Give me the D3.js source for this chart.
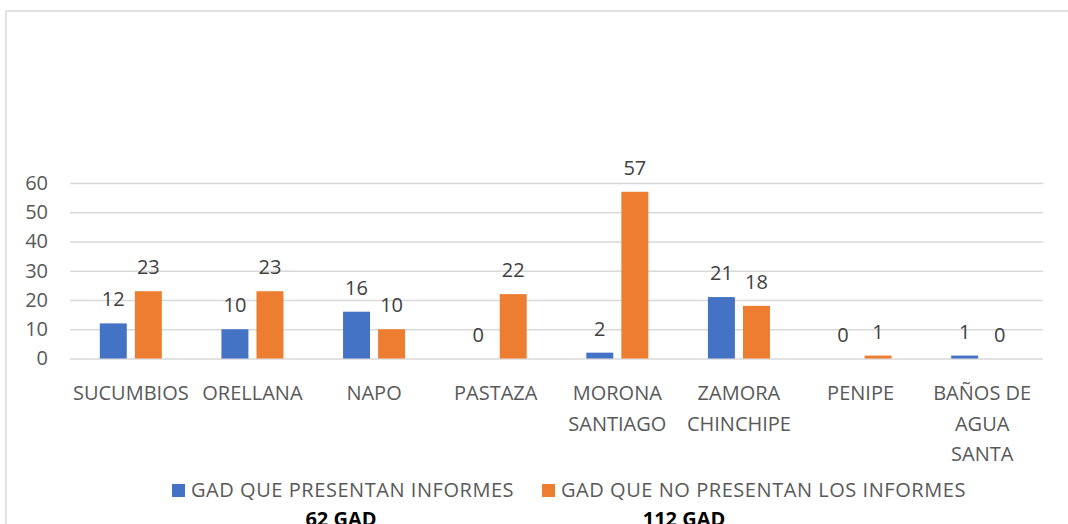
<!DOCTYPE html>
<html>
<head>
<meta charset="utf-8">
<script src="https://cdn.jsdelivr.net/npm/d3@7"></script>
<style>
  html, body { margin: 0; padding: 0; background: #fff; }
  svg { display: block; font-family: 'Open Sans', sans-serif; }
</style>
</head>
<body>
<div id="chart"></div>
<script>
// categories (multi-line labels split on '|')
const categories = ['SUCUMBIOS', 'ORELLANA', 'NAPO', 'PASTAZA', 'MORONA|SANTIAGO', 'ZAMORA|CHINCHIPE', 'PENIPE', 'BAÑOS DE|AGUA|SANTA'];
const seriesNames = ['GAD QUE PRESENTAN INFORMES', 'GAD QUE NO PRESENTAN LOS INFORMES'];
const presentan = [12, 10, 16, 0, 2, 21, 0, 1];
const noPresentan = [23, 23, 10, 22, 57, 18, 1, 0];
const yTicks = [0, 10, 20, 30, 40, 50, 60];
const totals = ['62 GAD', '112 GAD'];

const width = 1068, height = 524;
const colors = ['#4472C4', '#ED7D31'];
const margin = { top: 183, right: 25, bottom: 165.5, left: 70 };

const svg = d3.select('#chart').append('svg')
  .attr('width', width)
  .attr('height', height);

// chart frame (cut off at right / bottom)
svg.append('rect')
  .attr('x', 6).attr('y', 11)
  .attr('width', 1100).attr('height', 600)
  .attr('fill', 'none')
  .attr('stroke', '#d9d9d9')
  .attr('stroke-width', 1.5);

const x0 = d3.scaleBand()
  .domain(categories)
  .range([margin.left, width - margin.right])
  .paddingInner(0.49)
  .paddingOuter(0.245);

const x1 = d3.scaleBand()
  .domain([0, 1])
  .range([0, x0.bandwidth()])
  .paddingInner(0.23)
  .paddingOuter(0);

const y = d3.scaleLinear()
  .domain([0, 60])
  .range([height - margin.bottom, margin.top]);

// gridlines + tick labels
const yAxis = svg.append('g')
  .attr('transform', `translate(${margin.left},0)`)
  .call(d3.axisLeft(y)
    .tickValues(yTicks)
    .tickSize(-(width - margin.left - margin.right))
    .tickPadding(22));
yAxis.select('.domain').remove();
yAxis.selectAll('.tick line')
  .attr('stroke', '#d9d9d9')
  .attr('stroke-width', 1.6);
yAxis.selectAll('.tick text')
  .attr('fill', '#595959')
  .attr('font-size', '20px')
  .attr('font-family', "'Open Sans', sans-serif");

// bars
const data = categories.map((c, i) => ({ cat: c, vals: [presentan[i], noPresentan[i]] }));

const groups = svg.selectAll('.group')
  .data(data)
  .enter().append('g')
  .attr('class', 'group')
  .attr('transform', d => `translate(${x0(d.cat)},0)`);

groups.selectAll('rect')
  .data(d => d.vals.map((v, k) => ({ k, v })))
  .enter().append('rect')
  .attr('x', d => x1(d.k))
  .attr('y', d => y(d.v))
  .attr('width', x1.bandwidth())
  .attr('height', d => y(0) - y(d.v))
  .attr('fill', d => colors[d.k]);

// value labels
groups.selectAll('.value-label')
  .data(d => d.vals.map((v, k) => ({ k, v })))
  .enter().append('text')
  .attr('class', 'value-label')
  .attr('x', d => x1(d.k) + x1.bandwidth() / 2)
  .attr('y', d => y(d.v) - 17)
  .attr('text-anchor', 'middle')
  .attr('font-size', '20px')
  .attr('fill', '#404040')
  .text(d => d.v);

// category labels
svg.selectAll('.cat-label')
  .data(categories)
  .enter().append('text')
  .attr('class', 'cat-label')
  .attr('text-anchor', 'middle')
  .attr('font-size', '20px')
  .attr('fill', '#595959')
  .each(function(d) {
    const t = d3.select(this);
    d.split('|').forEach((line, i) => {
      t.append('tspan')
        .attr('x', x0(d) + x0.bandwidth() / 2)
        .attr('y', 400 + i * 30.5)
        .text(line);
    });
  });

// legend
const legendX = [172, 542];
const legend = svg.selectAll('.legend')
  .data(seriesNames)
  .enter().append('g')
  .attr('class', 'legend')
  .attr('transform', (d, i) => `translate(${legendX[i]},484)`);
legend.append('rect')
  .attr('width', 13).attr('height', 13)
  .attr('fill', (d, i) => colors[i]);
legend.append('text')
  .attr('x', 19).attr('y', 13)
  .attr('font-size', '20px')
  .attr('letter-spacing', '0.55px')
  .attr('fill', '#595959')
  .text(d => d);

// totals under the legend (cut off by the bottom edge, as in the original)
const totalX = [341, 684];
svg.selectAll('.total')
  .data(totals)
  .enter().append('text')
  .attr('class', 'total')
  .attr('x', (d, i) => totalX[i])
  .attr('y', 526)
  .attr('text-anchor', 'middle')
  .attr('font-size', '20px')
  .attr('font-weight', 'bold')
  .attr('fill', '#000')
  .text(d => d);
</script>
</body>
</html>
